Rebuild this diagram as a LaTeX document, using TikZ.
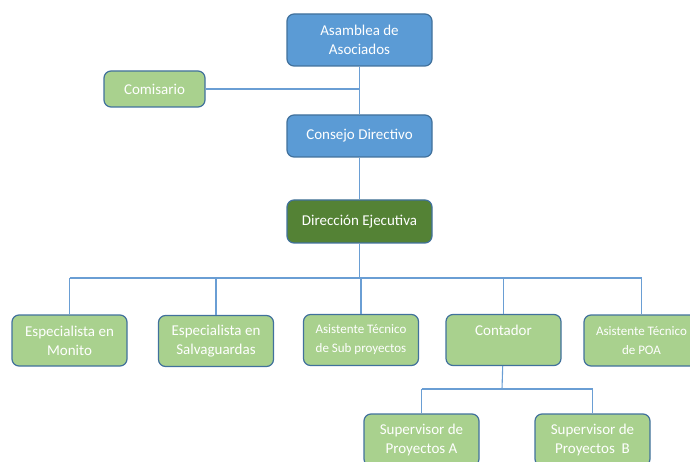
\documentclass[tikz,border=0pt]{standalone}
\usepackage{fontspec}
\setmainfont{Carlito}
\usepackage{tikz}

\definecolor{azul}{RGB}{91,155,213}
\definecolor{bordeazul}{RGB}{65,113,156}
\definecolor{verde}{RGB}{169,209,142}
\definecolor{verdeosc}{RGB}{84,130,53}
\definecolor{linea}{RGB}{106,158,212}

\begin{document}
\begin{tikzpicture}[x=1pt, y=-1pt,
    caja/.style={draw=bordeazul, line width=1.2pt, rounded corners=7pt,
        text=white, align=center, inner sep=0pt,
        font=\fontsize{15}{19}\selectfont},
    cajaazul/.style={caja, fill=azul, minimum width=145pt},
    cajaverde/.style={caja, fill=verde, minimum width=115pt, minimum height=51pt},
    chica/.style={font=\fontsize{13}{19}\selectfont},
    conector/.style={draw=linea, line width=1.1pt}]
    \clip (0,0) rectangle (690,462);

    % organos de gobierno
    \node[cajaazul, minimum height=52pt] (asamblea) at (359.5,40) {Asamblea de\\Asociados};
    \node[caja, fill=verde, minimum width=101pt, minimum height=36pt] (comisario) at (154.5,89) {Comisario};
    \node[cajaazul, minimum height=42pt] (consejo) at (359.5,136) {Consejo Directivo};
    \node[cajaazul, fill=verdeosc, minimum height=43pt] (direccion) at (359.5,221.5) {Dirección Ejecutiva};

    \draw[conector] (asamblea) -- (consejo);
    \coordinate (union) at (359.5,89);
    \draw[conector] (comisario) -- (union);
    \draw[conector] (consejo) -- (direccion);

    % areas
    \node[cajaverde] (monito) at (69.5,340.5) {Especialista en\\Monito};
    \node[cajaverde] (salva) at (216,341) {Especialista en\\Salvaguardas};
    \node[cajaverde, chica] (subproy) at (361,340) {Asistente Técnico\\de Sub proyectos};
    \node[cajaverde] (contador) at (503.5,340) {Contador\\\mbox{}};
    \node[cajaverde, chica] (poa) at (641.5,340.5) {Asistente Técnico\\de POA};

    \coordinate (bus) at (359.5,278);
    \draw[conector] (direccion) -- (bus);
    \draw[conector] (monito.north |- bus) -- (poa.north |- bus);
    \foreach \n in {monito, salva, subproy, contador, poa}
        \draw[conector] (\n.north |- bus) -- (\n.north);

    % supervisores
    \node[cajaverde, minimum height=52pt] (supA) at (421.5,440) {Supervisor de\\Proyectos A};
    \node[cajaverde, minimum height=52pt] (supB) at (592.5,440) {Supervisor de\\Proyectos\ \ B};

    \coordinate (bus2) at (502,389);
    \draw[conector] (contador) -- (bus2);
    \draw[conector] (supA.north |- bus2) -- (supB.north |- bus2);
    \draw[conector] (supA.north |- bus2) -- (supA.north);
    \draw[conector] (supB.north |- bus2) -- (supB.north);
\end{tikzpicture}
\end{document}
